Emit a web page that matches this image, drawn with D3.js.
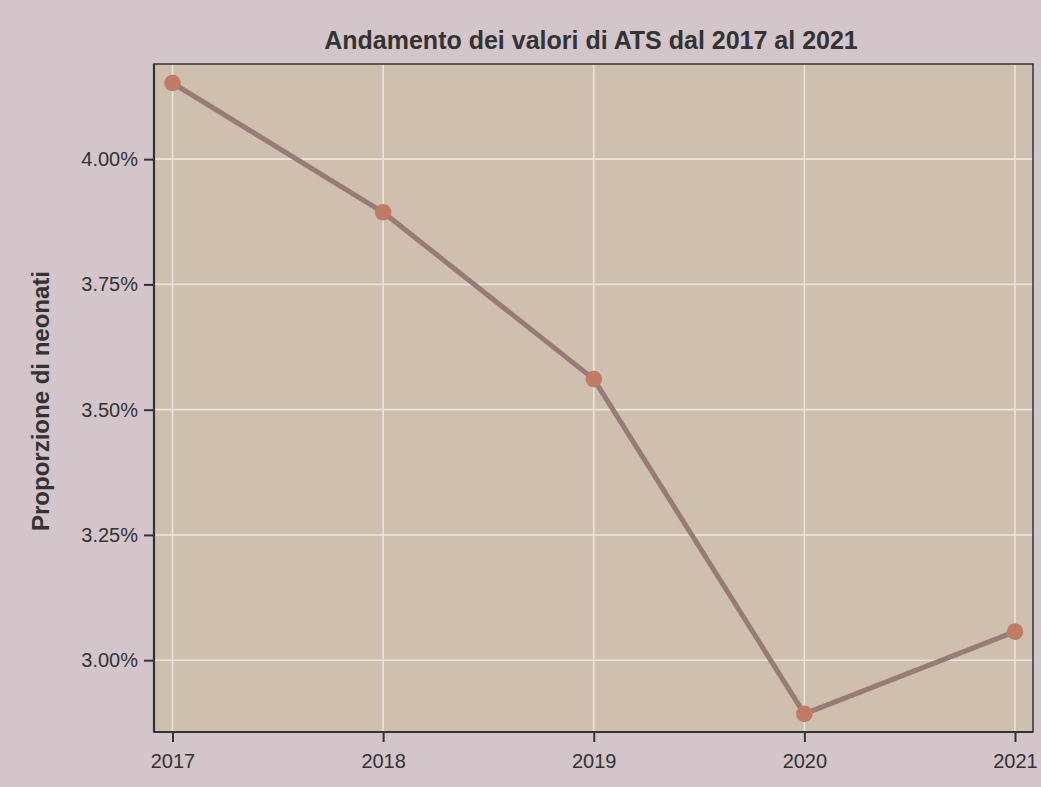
<!DOCTYPE html>
<html>
<head>
<meta charset="utf-8">
<script src="https://cdn.jsdelivr.net/npm/d3@7"></script>
<style>
  html, body { margin: 0; padding: 0; background: #d3c5ca; }
  svg { display: block; font-family: "Liberation Sans", Arial, Helvetica, sans-serif; }
</style>
</head>
<body>
<svg id="chart" width="1041" height="787"></svg>
<script>
// Annual values (percent of newborns)
const years = [2017, 2018, 2019, 2020, 2021];
const values = [4.152, 3.894, 3.561, 2.893, 3.057];
const yTicks = [3.00, 3.25, 3.50, 3.75, 4.00];

const W = 1041, H = 787;
const margin = { left: 154, right: 8, top: 64, bottom: 55 };
const plotW = W - margin.left - margin.right;
const plotH = H - margin.top - margin.bottom;

const svg = d3.select("#chart");
svg.append("rect").attr("width", W).attr("height", H).attr("fill", "#d3c5ca");

const x = d3.scaleLinear()
  .domain([2017, 2021])
  .range([18.5, plotW - 18]);
const y = d3.scaleLinear()
  .domain([2.8926, 4.152])
  .range([plotH - 18, 19]);

const g = svg.append("g").attr("transform", `translate(${margin.left},${margin.top})`);

// Plot panel
g.append("rect")
  .attr("width", plotW).attr("height", plotH)
  .attr("fill", "#cfbfaf");

// Grid
g.append("g").selectAll("line").data(yTicks).join("line")
  .attr("x1", 0).attr("x2", plotW)
  .attr("y1", d => y(d)).attr("y2", d => y(d))
  .attr("stroke", "#ebe3de").attr("stroke-width", 1.6);
g.append("g").selectAll("line").data(years).join("line")
  .attr("y1", 0).attr("y2", plotH)
  .attr("x1", d => x(d)).attr("x2", d => x(d))
  .attr("stroke", "#ebe3de").attr("stroke-width", 1.6);

// Panel border
g.append("rect")
  .attr("width", plotW).attr("height", plotH)
  .attr("fill", "none").attr("stroke", "#333").attr("stroke-width", 1.5);

// Axes
const xAxis = d3.axisBottom(x).tickValues(years).tickFormat(d3.format("d"))
  .tickSize(10).tickPadding(12).tickSizeOuter(0);
const yAxis = d3.axisLeft(y).tickValues(yTicks).tickFormat(d => d.toFixed(2) + "%")
  .tickSize(10).tickPadding(6).tickSizeOuter(0);

const gx = g.append("g").attr("transform", `translate(0,${plotH})`).call(xAxis);
const gy = g.append("g").call(yAxis);
[gx, gy].forEach(a => {
  a.select(".domain").remove();
  a.selectAll(".tick line").attr("stroke", "#333").attr("stroke-width", 2);
  a.selectAll(".tick text").attr("fill", "#333").style("font-size", "20px");
});
// Heavier left and bottom axis lines
g.append("line").attr("x1", 0).attr("x2", 0).attr("y1", 0).attr("y2", plotH)
  .attr("stroke", "#333").attr("stroke-width", 2.2);
g.append("line").attr("x1", 0).attr("x2", plotW).attr("y1", plotH).attr("y2", plotH)
  .attr("stroke", "#333").attr("stroke-width", 2.2);

// Series line and points
const pts = years.map((yr, i) => [yr, values[i]]);
g.append("path")
  .datum(pts)
  .attr("fill", "none")
  .attr("stroke", "#977b76")
  .attr("stroke-width", 5)
  .attr("stroke-linejoin", "round")
  .attr("d", d3.line().x(d => x(d[0])).y(d => y(d[1])));
g.append("g").selectAll("circle").data(pts).join("circle")
  .attr("cx", d => x(d[0])).attr("cy", d => y(d[1]))
  .attr("r", 8.3).attr("fill", "#c07b65");

// Title
svg.append("text")
  .attr("x", 591).attr("y", 49)
  .attr("text-anchor", "middle")
  .attr("fill", "#333")
  .style("font-size", "25px").style("font-weight", "bold")
  .text("Andamento dei valori di ATS dal 2017 al 2021");

// Y axis label
svg.append("text")
  .attr("transform", `translate(49,401) rotate(-90)`)
  .attr("text-anchor", "middle")
  .attr("fill", "#333")
  .style("font-size", "24px").style("font-weight", "bold")
  .text("Proporzione di neonati");
</script>
</body>
</html>
